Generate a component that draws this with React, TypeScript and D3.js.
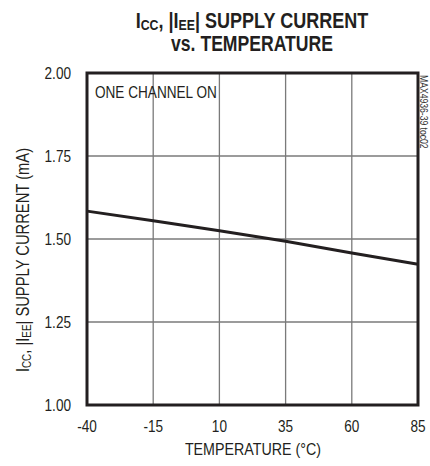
import * as d3 from 'd3';

// temperature (°C) vs supply current (mA)
const temps = [-40, -15, 10, 35, 60, 85];
const current = [1.584, 1.555, 1.525, 1.493, 1.458, 1.424];
const yTicks = [1.0, 1.25, 1.5, 1.75, 2.0];
const xTicks = [-40, -15, 10, 35, 60, 85];

const W = 430;
const H = 466;
const margin = { top: 73, right: 12, bottom: 61, left: 87 };
const FONT = '"Liberation Sans", Arial, sans-serif';
const INK = '#231f20';
const SQ = 0.8; // horizontal squeeze to mimic a condensed face

// condensed text: placed with translate, squeezed with scaleX
function CText(props: { x: number; y: number; rot?: number; sx?: number; children: any; [k: string]: any }) {
  const { x, y, rot = 0, sx = SQ, children, ...rest } = props;
  return (
    <text transform={`translate(${x},${y}) rotate(${rot}) scale(${sx},1)`} fill={INK} {...rest}>
      {children}
    </text>
  );
}

export default function App() {
  const innerW = W - margin.left - margin.right;
  const innerH = H - margin.top - margin.bottom;

  const x = d3.scaleLinear().domain([-40, 85]).range([0, innerW]);
  const y = d3.scaleLinear().domain([1.0, 2.0]).range([innerH, 0]);

  const line = d3.line<number>()
    .x((_, i) => x(temps[i]))
    .y(d => y(d));

  return (
    <svg width={W} height={H} style={{ position: 'absolute', left: 0, top: 0, background: '#fff' }}
      fontFamily={FONT}>
      {/* title */}
      <CText x={252} y={28} textAnchor="middle" fontSize={22} fontWeight="bold" sx={0.82}>
        <tspan>I</tspan><tspan fontSize={15} dy={2}>CC</tspan><tspan dy={-2}>, |I</tspan>
        <tspan fontSize={15} dy={2}>EE</tspan><tspan dy={-2}>| SUPPLY CURRENT</tspan>
      </CText>
      <CText x={252} y={51} textAnchor="middle" fontSize={22} fontWeight="bold" sx={0.8}>
        vs. TEMPERATURE
      </CText>

      <g transform={`translate(${margin.left},${margin.top})`}>
        {/* grid */}
        {xTicks.slice(1, -1).map(t => (
          <line key={'gx' + t} x1={x(t)} x2={x(t)} y1={0} y2={innerH} stroke="#7a7a7a" strokeWidth={1.3} />
        ))}
        {yTicks.slice(1, -1).map(t => (
          <line key={'gy' + t} x1={0} x2={innerW} y1={y(t)} y2={y(t)} stroke="#7a7a7a" strokeWidth={1.3} />
        ))}

        {/* data */}
        <path d={line(current) ?? ''} fill="none" stroke={INK} strokeWidth={3} />

        {/* frame */}
        <rect x={0} y={0} width={innerW} height={innerH} fill="none" stroke={INK} strokeWidth={3} />

        <CText x={8} y={25} fontSize={17}>ONE CHANNEL ON</CText>

        {/* y ticks */}
        {yTicks.map(t => (
          <CText key={'yt' + t} x={-16} y={y(t)} dy="0.36em" textAnchor="end" fontSize={17}>
            {d3.format('.2f')(t)}
          </CText>
        ))}
        {/* x ticks */}
        {xTicks.map(t => (
          <CText key={'xt' + t} x={x(t)} y={innerH + 27} textAnchor="middle" fontSize={17}>
            {t}
          </CText>
        ))}
      </g>

      <CText x={253} y={455} textAnchor="middle" fontSize={17} sx={0.84}>TEMPERATURE (°C)</CText>

      <CText x={29} y={260} rot={-90} textAnchor="middle" fontSize={18} sx={0.82}>
        <tspan>I</tspan><tspan fontSize={12} dy={2}>CC</tspan><tspan dy={-2}>, |I</tspan>
        <tspan fontSize={12} dy={2}>EE</tspan><tspan dy={-2}>| SUPPLY CURRENT (mA)</tspan>
      </CText>

      <CText x={420} y={75} rot={90} fontSize={10.5} sx={0.82} fill="#333">MAX4936-39 toc02</CText>
    </svg>
  );
}
